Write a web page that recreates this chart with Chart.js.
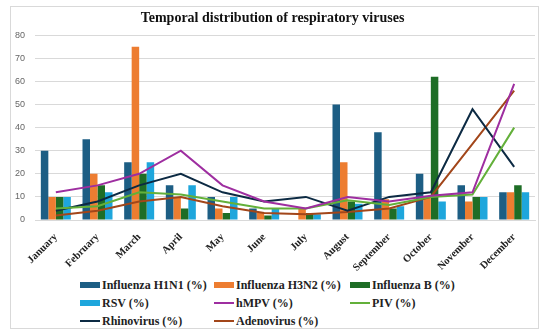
<!DOCTYPE html>
<html>
<head>
<meta charset="utf-8">
<script src="https://cdn.jsdelivr.net/npm/chart.js@4"></script>
<style>
  body { margin: 0; background: #fff; }
  .frame { position: absolute; left: 10px; top: 6px; width: 527px; height: 321px; border: 1px solid #d9d9d9; }
  .wrap { position: absolute; left: 0; top: 0; width: 549px; height: 275px; }
  .legend { position: absolute; left: 80px; top: 276px; display: grid;
    grid-template-columns: 134px 136px auto; grid-auto-rows: 18px;
    font: bold 12px "Liberation Serif", serif; color: #222; }
  .legend div { display: flex; align-items: center; }
  .legend span.mark { display: inline-block; width: 20px; margin-right: 2px; }
</style>
</head>
<body>
<div class="frame"></div>
<div class="wrap"><canvas id="virusChart"></canvas></div>
<div class="legend" id="legend"></div>
<script>
// data
const months = ['January', 'February', 'March', 'April', 'May', 'June', 'July',
  'August', 'September', 'October', 'November', 'December'];
const h1n1 = [30, 35, 25, 15, 10, 5, 0, 50, 38, 20, 15, 12];
const h3n2 = [10, 20, 75, 10, 5, 3, 5, 25, 9, 10, 8, 12];
const fluB = [10, 15, 20, 5, 3, 2, 3, 8, 5, 62, 10, 15];
const rsv = [10, 12, 25, 15, 10, 5, 2.5, 7, 6, 8, 10, 12];
const hmpv = [12, 15, 20, 30, 15, 8, 5, 10, 8, 10.5, 12, 59];
const piv = [5, 6, 12, 11, 8, 5, 5, 8.5, 6.5, 10, 11, 40];
const rhino = [4, 8, 15, 20, 12, 8, 10, 4, 10, 12, 48, 23];
const adeno = [2, 4, 8, 10, 6, 3, 2.5, 3.5, 5, 10, 33, 56];
const yTicks = [0, 10, 20, 30, 40, 50, 60, 70, 80];

function bar(label, data, color) {
  return { type: 'bar', label, data, backgroundColor: color, borderWidth: 0,
    order: 2, barPercentage: 1, categoryPercentage: 0.72 };
}
function line(label, data, color) {
  return { type: 'line', label, data, borderColor: color, backgroundColor: color,
    borderWidth: 2, pointRadius: 0, tension: 0, order: 1 };
}

const datasets = [
  bar('Influenza H1N1 (%)', h1n1, '#1d5e84'),
  bar('Influenza H3N2 (%)', h3n2, '#ed7d31'),
  bar('Influenza B (%)', fluB, '#1e6d26'),
  bar('RSV (%)', rsv, '#1ea6dc'),
  line('hMPV (%)', hmpv, '#9e2ea0'),
  line('PIV (%)', piv, '#63b03a'),
  line('Rhinovirus (%)', rhino, '#0c2a43'),
  line('Adenovirus (%)', adeno, '#a2461a')
];

const ctx = document.getElementById('virusChart');
const chart = new Chart(ctx, {
  data: { labels: months, datasets },
  options: {
    responsive: true,
    maintainAspectRatio: false,
    animation: false,
    layout: { padding: { top: 6, left: 10, right: 14, bottom: 0 } },
    plugins: {
      legend: { display: false },
      tooltip: { enabled: false },
      title: {
        display: true,
        text: 'Temporal distribution of respiratory viruses',
        color: '#111',
        font: { family: 'Liberation Serif', size: 14, weight: 'bold' },
        padding: { top: 4, bottom: 8.5 }
      }
    },
    scales: {
      x: {
        grid: { display: false },
        border: { color: '#d9d9d9' },
        ticks: { minRotation: 45, maxRotation: 45, color: '#222', padding: 3,
          font: { family: 'Liberation Serif', size: 10.5, weight: 'bold' } },
        afterFit: s => { s.height = 55; }
      },
      y: {
        min: yTicks[0], max: yTicks[yTicks.length - 1],
        afterBuildTicks: s => { s.ticks = yTicks.map(v => ({ value: v })); },
        grid: { color: '#d9d9d9', drawTicks: false },
        border: { display: false },
        ticks: { color: '#666', font: { family: 'Liberation Sans', size: 9 }, padding: 10 },
        afterFit: s => { s.width = 25; }
      }
    }
  }
});

// legend in a 3 column grid like the picture
const legendDiv = document.getElementById('legend');
datasets.forEach(ds => {
  const item = document.createElement('div');
  const mark = document.createElement('span');
  mark.className = 'mark';
  mark.style.height = ds.type === 'bar' ? '6px' : '2px';
  mark.style.background = ds.type === 'bar' ? ds.backgroundColor : ds.borderColor;
  item.appendChild(mark);
  item.appendChild(document.createTextNode(ds.label));
  legendDiv.appendChild(item);
});
</script>
</body>
</html>
